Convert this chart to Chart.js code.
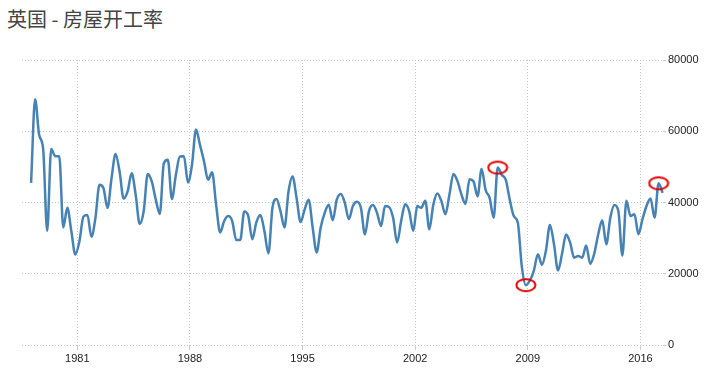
<!DOCTYPE html>
<html>
<head>
<meta charset="utf-8">
<script src="https://cdn.jsdelivr.net/npm/chart.js@4.4.1/dist/chart.umd.min.js"></script>
<style>
html,body{margin:0;padding:0;background:#fff;}
#box{position:relative;width:716px;height:377px;overflow:hidden;}
#title{position:absolute;left:7px;top:9px;font-family:"Noto Sans CJK SC","Noto Sans",sans-serif;font-size:20px;line-height:20px;color:#444;white-space:nowrap;}
#c{position:absolute;left:0;top:0;}
</style>
</head>
<body>
<div id="box">
<div id="title">英国 - 房屋开工率</div>
<canvas id="c" width="716" height="377"></canvas>
</div>
<script>
// First quarter of the series and quarterly housing starts (UK), 1978Q1 .. 2017Q2
const firstYear = 1978;
const housingStarts = [
  45500, 69000, 59000, 55000, 32000, 55000, 53000, 53000, 33000, 38500,
  32000, 25400, 29000, 36000, 36500, 30400, 35700, 45000, 44000, 38500,
  46800, 53600, 48700, 41100, 43100, 48200, 42200, 34000, 37600, 48000,
  45900, 40800, 36800, 51000, 52000, 41000, 47800, 52900, 53000, 45600,
  50600, 60500, 56100, 51500, 46400, 48500, 39400, 31600, 34800, 36200,
  34800, 29500, 29500, 37500, 36200, 29700, 34400, 36500, 32000, 25700,
  38500, 41000, 37600, 33000, 43100, 47300, 41300, 34500, 38000, 40800,
  33000, 26000, 33000, 37100, 39400, 35000, 40800, 42400, 39900, 35300,
  39000, 40200, 38500, 31000, 37600, 39300, 37100, 33400, 39000, 38700,
  35700, 28800, 34800, 39500, 37600, 32000, 39000, 38500, 40500, 32500,
  39400, 42500, 40400, 36700, 42200, 48000, 46000, 42200, 39600, 46500,
  45900, 41700, 49400, 43500, 41300, 35700, 49800, 47800, 46400, 40800,
  36200, 34400, 22000, 16800, 18100, 20900, 25500, 22500, 26500, 33700,
  28300, 20900, 25600, 31000, 28800, 24500, 25000, 24500, 27900, 22800,
  25600, 31100, 35000, 28300, 35700, 39300, 37600, 25100, 40500, 36200,
  36700, 31100, 35300, 39000, 41100, 35700, 45400, 42700
];
// Quarters highlighted with red ellipses
const highlighted = ['2007Q1', '2008Q4', '2017Q1'];
// X-axis tick labels (years)
const yearTicks = [1981, 1988, 1995, 2002, 2009, 2016];
// Y-axis tick labels
const valueTicks = [0, 20000, 40000, 60000, 80000];

const quarters = housingStarts.map((_, i) => (firstYear + Math.floor(i / 4)) + 'Q' + (i % 4 + 1));
const points = quarters.map((q, i) => {
  const y = parseInt(q.slice(0, 4), 10), n = parseInt(q.slice(5), 10);
  return { x: y + (n - 1) / 4 + 0.125, y: housingStarts[i] };
});
const markIdx = highlighted.map(q => quarters.indexOf(q));

// ellipse marker image
const ell = document.createElement('canvas');
ell.width = 22; ell.height = 16;
(function(){
  const g = ell.getContext('2d');
  g.strokeStyle = '#e30000';
  g.lineWidth = 2;
  g.beginPath();
  g.ellipse(11, 8, 9.5, 6, 0, 0, Math.PI * 2);
  g.stroke();
})();

const gridColor = '#c8c8c8';
const tickFont = { family: '"Liberation Sans", Arial, sans-serif', size: 11 };

new Chart(document.getElementById('c'), {
  type: 'line',
  data: {
    datasets: [{
      data: points,
      borderColor: '#4682b4',
      borderWidth: 2.5,
      cubicInterpolationMode: 'monotone',
      fill: false,
      clip: false,
      pointRadius: ctx => markIdx.includes(ctx.dataIndex) ? 5 : 0,
      pointStyle: ctx => markIdx.includes(ctx.dataIndex) ? ell : 'circle',
      pointHoverRadius: 0
    }]
  },
  options: {
    responsive: false,
    animation: false,
    events: [],
    layout: { padding: { top: 60, left: 22, right: 0, bottom: 0 } },
    plugins: { legend: { display: false }, tooltip: { enabled: false }, title: { display: false } },
    scales: {
      x: {
        type: 'linear',
        min: 1977.56,
        max: 2017.40,
        afterBuildTicks: s => { s.ticks = yearTicks.map(v => ({ value: v })); },
        afterFit: s => { s.height = 32; },
        border: { display: false, dash: [1, 2] },
        grid: { color: gridColor, lineWidth: 1, drawTicks: true, tickLength: 5, tickColor: gridColor },
        ticks: { font: tickFont, color: '#222', padding: 2, maxRotation: 0, autoSkip: false, callback: v => String(v) }
      },
      y: {
        position: 'right',
        min: 0,
        max: 80000,
        afterBuildTicks: s => { s.ticks = valueTicks.map(v => ({ value: v })); },
        afterFit: s => { s.width = 53; },
        border: { display: false, dash: [1, 2] },
        grid: { color: gridColor, lineWidth: 1, drawTicks: true, tickLength: 3, tickColor: gridColor },
        ticks: { font: tickFont, color: '#222', padding: 2, callback: v => String(v) }
      }
    }
  }
});
</script>
</body>
</html>
